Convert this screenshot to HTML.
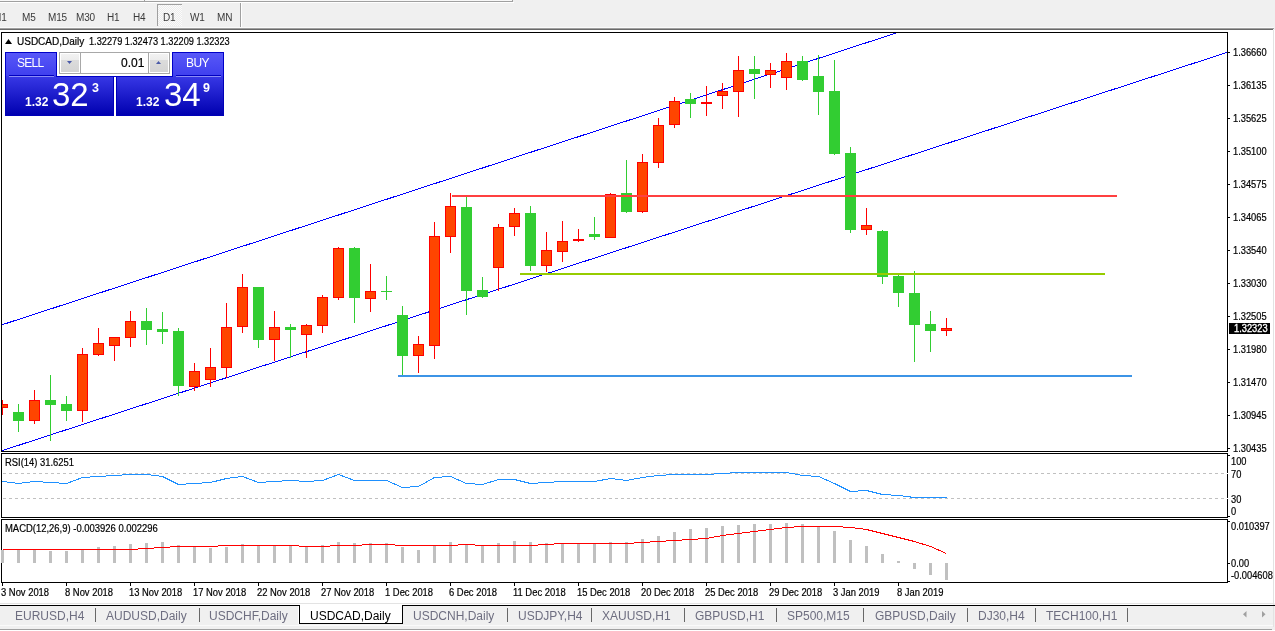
<!DOCTYPE html>
<html><head><meta charset="utf-8">
<style>
*{margin:0;padding:0;box-sizing:border-box}
html,body{width:1275px;height:631px;overflow:hidden;background:#f0f0f0;font-family:"Liberation Sans",sans-serif}
.a{position:absolute}
.tf{position:absolute;top:12px;font-size:10px;color:#3a3a3a;line-height:11px;letter-spacing:-0.2px;will-change:transform}
.win{position:absolute;left:0;top:30px;width:1273px;height:573px;background:#fff}
.tick{position:absolute;width:2px;height:1px;background:#000}
.pl{position:absolute;left:1233px;font-size:10px;line-height:11px;color:#000;letter-spacing:0;-webkit-text-stroke:0.2px #000;transform:scaleX(0.93);transform-origin:0 0}
.dtick{position:absolute;top:583px;width:1px;height:3px;background:#000}
.dl{position:absolute;top:587px;font-size:10px;line-height:11px;color:#000;letter-spacing:0;white-space:nowrap;-webkit-text-stroke:0.2px #000;transform:scaleX(0.94);transform-origin:0 0}
.tab{position:absolute;top:609px;font-size:12px;line-height:14px;color:#6e6e80;white-space:nowrap}
.tab.act{color:#000}
.tsep{position:absolute;top:608px;width:1px;height:14px;background:#686868}
.lbl{position:absolute;font-size:10px;line-height:11px;color:#000;white-space:nowrap;letter-spacing:0;-webkit-text-stroke:0.2px #000;transform-origin:0 0}
.tp{position:absolute;color:#fff;white-space:nowrap}
</style></head><body>
<!-- top strip -->
<div class="a" style="left:0;top:0;width:512px;height:1px;background:#f8f8f8"></div>
<div class="a" style="left:0;top:1px;width:513px;height:1px;background:#a0a0a0"></div>
<div class="a" style="left:512px;top:0;width:1px;height:2px;background:#a0a0a0"></div>
<div class="a" style="left:144px;top:0;width:1px;height:1px;background:#a0a0a0"></div>
<div class="a" style="left:0;top:2px;width:514px;height:1px;background:#fff"></div>
<!-- D1 pressed -->
<div class="a" style="left:157px;top:4px;width:25px;height:22px;background:repeating-conic-gradient(#fbfbfb 0 25%,#ececec 0 50%) 0 0/2px 2px;border-left:1px solid #a0a0a0;border-top:1px solid #a0a0a0"></div>
<div class="tf" style="left:-7px">M1</div>
<div class="tf" style="left:22px">M5</div>
<div class="tf" style="left:48px">M15</div>
<div class="tf" style="left:76px">M30</div>
<div class="tf" style="left:107px">H1</div>
<div class="tf" style="left:133px">H4</div>
<div class="tf" style="left:163px">D1</div>
<div class="tf" style="left:190px">W1</div>
<div class="tf" style="left:217px">MN</div>
<div class="a" style="left:240px;top:3px;width:1px;height:24px;background:#a0a0a0"></div>
<div class="a" style="left:241px;top:3px;width:1px;height:24px;background:#fff"></div>
<div class="a" style="left:0;top:27px;width:1274px;height:1px;background:#fafafa"></div>
<div class="a" style="left:0;top:28px;width:1274px;height:1px;background:#a0a0a0"></div>
<div class="a" style="left:0;top:29px;width:1273px;height:1px;background:#696969"></div>
<!-- chart window -->
<div class="win"></div>
<div class="a" style="left:1274px;top:30px;width:1px;height:573px;background:#fff"></div>
<div class="a" style="left:1273px;top:30px;width:1px;height:597px;background:#e3e3e3"></div>
<div class="a" style="left:1px;top:32px;width:1227px;height:420px;border:1px solid #000"></div>
<div class="a" style="left:1px;top:453px;width:1227px;height:65px;border:1px solid #000"></div>
<div class="a" style="left:1px;top:519px;width:1227px;height:64px;border:1px solid #000"></div>
<svg class="a" style="left:0;top:0" width="1275" height="631" viewBox="0 0 1275 631">
<defs><clipPath id="cm"><rect x="2" y="33" width="1225" height="418"/></clipPath></defs>
<g clip-path="url(#cm)" shape-rendering="crispEdges">
<line x1="0" y1="325.440" x2="1228" y2="-75.293" stroke="#0000ff" stroke-width="1"/>
<line x1="0" y1="451.320" x2="1228" y2="52.134" stroke="#0000ff" stroke-width="1"/>
<rect x="2" y="400" width="1" height="15" fill="#ff0000"/>
<rect x="-3" y="404" width="11" height="4" fill="#ff0000"/>
<rect x="-2" y="405" width="9" height="2" fill="#ff4500"/>
<rect x="18" y="404" width="1" height="28" fill="#32cd32"/>
<rect x="13" y="412" width="11" height="9" fill="#32cd32"/>
<rect x="34" y="390" width="1" height="34" fill="#ff0000"/>
<rect x="29" y="400" width="11" height="21" fill="#ff0000"/>
<rect x="30" y="401" width="9" height="19" fill="#ff4500"/>
<rect x="50" y="375" width="1" height="66" fill="#32cd32"/>
<rect x="45" y="400" width="11" height="5" fill="#32cd32"/>
<rect x="66" y="396" width="1" height="25" fill="#32cd32"/>
<rect x="61" y="404" width="11" height="7" fill="#32cd32"/>
<rect x="82" y="348" width="1" height="74" fill="#ff0000"/>
<rect x="77" y="354" width="11" height="57" fill="#ff0000"/>
<rect x="78" y="355" width="9" height="55" fill="#ff4500"/>
<rect x="98" y="328" width="1" height="28" fill="#ff0000"/>
<rect x="93" y="343" width="11" height="12" fill="#ff0000"/>
<rect x="94" y="344" width="9" height="10" fill="#ff4500"/>
<rect x="114" y="337" width="1" height="24" fill="#ff0000"/>
<rect x="109" y="337" width="11" height="9" fill="#ff0000"/>
<rect x="110" y="338" width="9" height="7" fill="#ff4500"/>
<rect x="130" y="311" width="1" height="36" fill="#ff0000"/>
<rect x="125" y="321" width="11" height="17" fill="#ff0000"/>
<rect x="126" y="322" width="9" height="15" fill="#ff4500"/>
<rect x="146" y="308" width="1" height="37" fill="#32cd32"/>
<rect x="141" y="321" width="11" height="9" fill="#32cd32"/>
<rect x="162" y="312" width="1" height="32" fill="#32cd32"/>
<rect x="157" y="329" width="11" height="3" fill="#32cd32"/>
<rect x="178" y="328" width="1" height="68" fill="#32cd32"/>
<rect x="173" y="331" width="11" height="55" fill="#32cd32"/>
<rect x="194" y="363" width="1" height="28" fill="#ff0000"/>
<rect x="189" y="371" width="11" height="16" fill="#ff0000"/>
<rect x="190" y="372" width="9" height="14" fill="#ff4500"/>
<rect x="210" y="348" width="1" height="39" fill="#ff0000"/>
<rect x="205" y="367" width="11" height="13" fill="#ff0000"/>
<rect x="206" y="368" width="9" height="11" fill="#ff4500"/>
<rect x="226" y="303" width="1" height="75" fill="#ff0000"/>
<rect x="221" y="327" width="11" height="41" fill="#ff0000"/>
<rect x="222" y="328" width="9" height="39" fill="#ff4500"/>
<rect x="242" y="274" width="1" height="59" fill="#ff0000"/>
<rect x="237" y="287" width="11" height="40" fill="#ff0000"/>
<rect x="238" y="288" width="9" height="38" fill="#ff4500"/>
<rect x="258" y="287" width="1" height="61" fill="#32cd32"/>
<rect x="253" y="287" width="11" height="53" fill="#32cd32"/>
<rect x="274" y="311" width="1" height="50" fill="#ff0000"/>
<rect x="269" y="327" width="11" height="13" fill="#ff0000"/>
<rect x="270" y="328" width="9" height="11" fill="#ff4500"/>
<rect x="290" y="324" width="1" height="34" fill="#32cd32"/>
<rect x="285" y="327" width="11" height="3" fill="#32cd32"/>
<rect x="306" y="324" width="1" height="34" fill="#ff0000"/>
<rect x="301" y="325" width="11" height="10" fill="#ff0000"/>
<rect x="302" y="326" width="9" height="8" fill="#ff4500"/>
<rect x="322" y="295" width="1" height="38" fill="#ff0000"/>
<rect x="317" y="297" width="11" height="29" fill="#ff0000"/>
<rect x="318" y="298" width="9" height="27" fill="#ff4500"/>
<rect x="338" y="247" width="1" height="53" fill="#ff0000"/>
<rect x="333" y="248" width="11" height="50" fill="#ff0000"/>
<rect x="334" y="249" width="9" height="48" fill="#ff4500"/>
<rect x="354" y="247" width="1" height="76" fill="#32cd32"/>
<rect x="349" y="248" width="11" height="50" fill="#32cd32"/>
<rect x="370" y="264" width="1" height="48" fill="#ff0000"/>
<rect x="365" y="291" width="11" height="8" fill="#ff0000"/>
<rect x="366" y="292" width="9" height="6" fill="#ff4500"/>
<rect x="386" y="276" width="1" height="24" fill="#32cd32"/>
<rect x="381" y="291" width="11" height="1" fill="#32cd32"/>
<rect x="402" y="306" width="1" height="69" fill="#32cd32"/>
<rect x="397" y="315" width="11" height="41" fill="#32cd32"/>
<rect x="418" y="336" width="1" height="37" fill="#ff0000"/>
<rect x="413" y="344" width="11" height="12" fill="#ff0000"/>
<rect x="414" y="345" width="9" height="10" fill="#ff4500"/>
<rect x="434" y="222" width="1" height="137" fill="#ff0000"/>
<rect x="429" y="236" width="11" height="110" fill="#ff0000"/>
<rect x="430" y="237" width="9" height="108" fill="#ff4500"/>
<rect x="450" y="193" width="1" height="60" fill="#ff0000"/>
<rect x="445" y="206" width="11" height="31" fill="#ff0000"/>
<rect x="446" y="207" width="9" height="29" fill="#ff4500"/>
<rect x="466" y="197" width="1" height="118" fill="#32cd32"/>
<rect x="461" y="207" width="11" height="84" fill="#32cd32"/>
<rect x="482" y="277" width="1" height="21" fill="#32cd32"/>
<rect x="477" y="290" width="11" height="7" fill="#32cd32"/>
<rect x="498" y="224" width="1" height="67" fill="#ff0000"/>
<rect x="493" y="227" width="11" height="41" fill="#ff0000"/>
<rect x="494" y="228" width="9" height="39" fill="#ff4500"/>
<rect x="514" y="208" width="1" height="28" fill="#ff0000"/>
<rect x="509" y="213" width="11" height="14" fill="#ff0000"/>
<rect x="510" y="214" width="9" height="12" fill="#ff4500"/>
<rect x="530" y="206" width="1" height="65" fill="#32cd32"/>
<rect x="525" y="213" width="11" height="53" fill="#32cd32"/>
<rect x="546" y="232" width="1" height="40" fill="#ff0000"/>
<rect x="541" y="250" width="11" height="16" fill="#ff0000"/>
<rect x="542" y="251" width="9" height="14" fill="#ff4500"/>
<rect x="562" y="221" width="1" height="41" fill="#ff0000"/>
<rect x="557" y="241" width="11" height="11" fill="#ff0000"/>
<rect x="558" y="242" width="9" height="9" fill="#ff4500"/>
<rect x="578" y="229" width="1" height="13" fill="#ff0000"/>
<rect x="573" y="239" width="11" height="2" fill="#ff0000"/>
<rect x="594" y="217" width="1" height="23" fill="#32cd32"/>
<rect x="589" y="234" width="11" height="3" fill="#32cd32"/>
<rect x="610" y="193" width="1" height="45" fill="#ff0000"/>
<rect x="605" y="194" width="11" height="44" fill="#ff0000"/>
<rect x="606" y="195" width="9" height="42" fill="#ff4500"/>
<rect x="626" y="160" width="1" height="53" fill="#32cd32"/>
<rect x="621" y="193" width="11" height="19" fill="#32cd32"/>
<rect x="642" y="154" width="1" height="59" fill="#ff0000"/>
<rect x="637" y="162" width="11" height="50" fill="#ff0000"/>
<rect x="638" y="163" width="9" height="48" fill="#ff4500"/>
<rect x="658" y="118" width="1" height="50" fill="#ff0000"/>
<rect x="653" y="125" width="11" height="38" fill="#ff0000"/>
<rect x="654" y="126" width="9" height="36" fill="#ff4500"/>
<rect x="674" y="97" width="1" height="31" fill="#ff0000"/>
<rect x="669" y="101" width="11" height="24" fill="#ff0000"/>
<rect x="670" y="102" width="9" height="22" fill="#ff4500"/>
<rect x="690" y="93" width="1" height="25" fill="#32cd32"/>
<rect x="685" y="99" width="11" height="5" fill="#32cd32"/>
<rect x="706" y="86" width="1" height="30" fill="#ff0000"/>
<rect x="701" y="102" width="11" height="2" fill="#ff0000"/>
<rect x="722" y="83" width="1" height="26" fill="#ff0000"/>
<rect x="717" y="91" width="11" height="5" fill="#ff0000"/>
<rect x="718" y="92" width="9" height="3" fill="#ff4500"/>
<rect x="738" y="56" width="1" height="61" fill="#ff0000"/>
<rect x="733" y="70" width="11" height="22" fill="#ff0000"/>
<rect x="734" y="71" width="9" height="20" fill="#ff4500"/>
<rect x="754" y="56" width="1" height="43" fill="#32cd32"/>
<rect x="749" y="69" width="11" height="5" fill="#32cd32"/>
<rect x="770" y="63" width="1" height="25" fill="#ff0000"/>
<rect x="765" y="70" width="11" height="5" fill="#ff0000"/>
<rect x="766" y="71" width="9" height="3" fill="#ff4500"/>
<rect x="786" y="53" width="1" height="37" fill="#ff0000"/>
<rect x="781" y="61" width="11" height="17" fill="#ff0000"/>
<rect x="782" y="62" width="9" height="15" fill="#ff4500"/>
<rect x="802" y="56" width="1" height="25" fill="#32cd32"/>
<rect x="797" y="61" width="11" height="19" fill="#32cd32"/>
<rect x="818" y="55" width="1" height="60" fill="#32cd32"/>
<rect x="813" y="76" width="11" height="16" fill="#32cd32"/>
<rect x="834" y="60" width="1" height="95" fill="#32cd32"/>
<rect x="829" y="91" width="11" height="63" fill="#32cd32"/>
<rect x="850" y="147" width="1" height="86" fill="#32cd32"/>
<rect x="845" y="153" width="11" height="77" fill="#32cd32"/>
<rect x="866" y="208" width="1" height="27" fill="#ff0000"/>
<rect x="861" y="225" width="11" height="5" fill="#ff0000"/>
<rect x="862" y="226" width="9" height="3" fill="#ff4500"/>
<rect x="882" y="230" width="1" height="54" fill="#32cd32"/>
<rect x="877" y="231" width="11" height="46" fill="#32cd32"/>
<rect x="898" y="274" width="1" height="33" fill="#32cd32"/>
<rect x="893" y="276" width="11" height="17" fill="#32cd32"/>
<rect x="914" y="271" width="1" height="91" fill="#32cd32"/>
<rect x="909" y="293" width="11" height="32" fill="#32cd32"/>
<rect x="930" y="311" width="1" height="41" fill="#32cd32"/>
<rect x="925" y="324" width="11" height="7" fill="#32cd32"/>
<rect x="946" y="318" width="1" height="18" fill="#ff0000"/>
<rect x="941" y="328" width="11" height="3" fill="#ff0000"/>
<rect x="942" y="329" width="9" height="1" fill="#ff4500"/>
</g>
<g shape-rendering="crispEdges">
<rect x="452" y="195" width="665" height="2" fill="#ff4040"/>
<rect x="520" y="273" width="585" height="2" fill="#96cc00"/>
<rect x="398" y="375" width="734" height="2" fill="#3c94e6"/>
</g>
<g shape-rendering="crispEdges">
<line x1="3" y1="473.5" x2="1227" y2="473.5" stroke="#c0c0c0" stroke-dasharray="3 3"/>
<line x1="3" y1="498.5" x2="1227" y2="498.5" stroke="#c0c0c0" stroke-dasharray="3 3"/>
</g>
<polyline points="2.5,481.5 18.5,483.5 34.5,481.5 50.5,482.5 66.5,483.5 82.5,477.5 98.5,476.5 114.5,475.5 130.5,474.5 146.5,474.5 162.5,476.5 178.5,484.5 194.5,483.5 210.5,482.5 226.5,478.5 242.5,476.5 258.5,482.5 274.5,481.5 290.5,480.5 306.5,481.5 322.5,480.5 338.5,474.5 354.5,480.5 370.5,480.5 386.5,480.5 402.5,487.5 418.5,486.5 434.5,477.5 450.5,476.5 466.5,483.5 482.5,484.5 498.5,479.5 514.5,479.5 530.5,483.5 546.5,482.5 562.5,481.5 578.5,481.5 594.5,481.5 610.5,478.5 626.5,480.5 642.5,477.5 658.5,475.5 674.5,474.5 690.5,474.5 706.5,474.5 722.5,473.5 738.5,472.5 754.5,472.5 770.5,472.5 786.5,472.5 802.5,475.5 818.5,476.5 834.5,483.5 850.5,491.5 866.5,490.5 882.5,494.5 898.5,495.5 914.5,497.5 930.5,497.5 946.5,497.5" fill="none" stroke="#1e90ff" stroke-width="1" shape-rendering="crispEdges"/>
<g shape-rendering="crispEdges"><rect x="1" y="550" width="3" height="13" fill="#c0c0c0"/>
<rect x="17" y="550" width="3" height="13" fill="#c0c0c0"/>
<rect x="33" y="550" width="3" height="13" fill="#c0c0c0"/>
<rect x="49" y="551" width="3" height="12" fill="#c0c0c0"/>
<rect x="65" y="551" width="3" height="12" fill="#c0c0c0"/>
<rect x="81" y="550" width="3" height="13" fill="#c0c0c0"/>
<rect x="97" y="547" width="3" height="16" fill="#c0c0c0"/>
<rect x="113" y="546" width="3" height="17" fill="#c0c0c0"/>
<rect x="129" y="544" width="3" height="19" fill="#c0c0c0"/>
<rect x="145" y="543" width="3" height="20" fill="#c0c0c0"/>
<rect x="161" y="542" width="3" height="21" fill="#c0c0c0"/>
<rect x="177" y="545" width="3" height="18" fill="#c0c0c0"/>
<rect x="193" y="546" width="3" height="17" fill="#c0c0c0"/>
<rect x="209" y="548" width="3" height="15" fill="#c0c0c0"/>
<rect x="225" y="547" width="3" height="16" fill="#c0c0c0"/>
<rect x="241" y="544" width="3" height="19" fill="#c0c0c0"/>
<rect x="257" y="546" width="3" height="17" fill="#c0c0c0"/>
<rect x="273" y="546" width="3" height="17" fill="#c0c0c0"/>
<rect x="289" y="546" width="3" height="17" fill="#c0c0c0"/>
<rect x="305" y="547" width="3" height="16" fill="#c0c0c0"/>
<rect x="321" y="545" width="3" height="18" fill="#c0c0c0"/>
<rect x="337" y="542" width="3" height="21" fill="#c0c0c0"/>
<rect x="353" y="543" width="3" height="20" fill="#c0c0c0"/>
<rect x="369" y="543" width="3" height="20" fill="#c0c0c0"/>
<rect x="385" y="543" width="3" height="20" fill="#c0c0c0"/>
<rect x="401" y="547" width="3" height="16" fill="#c0c0c0"/>
<rect x="417" y="550" width="3" height="13" fill="#c0c0c0"/>
<rect x="433" y="546" width="3" height="17" fill="#c0c0c0"/>
<rect x="449" y="542" width="3" height="21" fill="#c0c0c0"/>
<rect x="465" y="545" width="3" height="18" fill="#c0c0c0"/>
<rect x="481" y="546" width="3" height="17" fill="#c0c0c0"/>
<rect x="497" y="543" width="3" height="20" fill="#c0c0c0"/>
<rect x="513" y="541" width="3" height="22" fill="#c0c0c0"/>
<rect x="529" y="542" width="3" height="21" fill="#c0c0c0"/>
<rect x="545" y="543" width="3" height="20" fill="#c0c0c0"/>
<rect x="561" y="544" width="3" height="19" fill="#c0c0c0"/>
<rect x="577" y="544" width="3" height="19" fill="#c0c0c0"/>
<rect x="593" y="544" width="3" height="19" fill="#c0c0c0"/>
<rect x="609" y="542" width="3" height="21" fill="#c0c0c0"/>
<rect x="625" y="542" width="3" height="21" fill="#c0c0c0"/>
<rect x="641" y="539" width="3" height="24" fill="#c0c0c0"/>
<rect x="657" y="536" width="3" height="27" fill="#c0c0c0"/>
<rect x="673" y="532" width="3" height="31" fill="#c0c0c0"/>
<rect x="689" y="529" width="3" height="34" fill="#c0c0c0"/>
<rect x="705" y="528" width="3" height="35" fill="#c0c0c0"/>
<rect x="721" y="526" width="3" height="37" fill="#c0c0c0"/>
<rect x="737" y="525" width="3" height="38" fill="#c0c0c0"/>
<rect x="753" y="524" width="3" height="39" fill="#c0c0c0"/>
<rect x="769" y="524" width="3" height="39" fill="#c0c0c0"/>
<rect x="785" y="523" width="3" height="40" fill="#c0c0c0"/>
<rect x="801" y="524" width="3" height="39" fill="#c0c0c0"/>
<rect x="817" y="527" width="3" height="36" fill="#c0c0c0"/>
<rect x="833" y="531" width="3" height="32" fill="#c0c0c0"/>
<rect x="849" y="540" width="3" height="23" fill="#c0c0c0"/>
<rect x="865" y="546" width="3" height="17" fill="#c0c0c0"/>
<rect x="881" y="554" width="3" height="9" fill="#c0c0c0"/>
<rect x="897" y="561" width="3" height="2" fill="#c0c0c0"/>
<rect x="913" y="563" width="3" height="6" fill="#c0c0c0"/>
<rect x="929" y="563" width="3" height="12" fill="#c0c0c0"/>
<rect x="945" y="563" width="3" height="17" fill="#c0c0c0"/></g>
<polyline points="2.5,549.5 18.5,549.5 34.5,549.5 50.5,549.5 66.5,549.5 82.5,549.5 98.5,549.5 114.5,549.5 130.5,549.5 146.5,548.5 162.5,547.5 178.5,546.5 194.5,546.5 210.5,546.5 226.5,545.5 242.5,545.5 258.5,545.5 274.5,545.5 290.5,545.5 306.5,546.5 322.5,546.5 338.5,545.5 354.5,545.5 370.5,544.5 386.5,544.5 402.5,545.5 418.5,545.5 434.5,545.5 450.5,545.5 466.5,544.5 482.5,545.5 498.5,545.5 514.5,545.5 530.5,545.5 546.5,544.5 562.5,543.5 578.5,543.5 594.5,543.5 610.5,543.5 626.5,543.5 642.5,542.5 658.5,541.5 674.5,540.5 690.5,539.5 706.5,538.5 722.5,535.5 738.5,533.5 754.5,531.5 770.5,529.5 786.5,527.5 802.5,526.5 818.5,526.5 834.5,526.5 850.5,527.5 866.5,529.5 882.5,533.5 898.5,537.5 914.5,541.5 930.5,546.5 946.5,553.5" fill="none" stroke="#ff0000" stroke-width="1" shape-rendering="crispEdges"/>
</svg>
<!-- title -->
<svg class="a" style="left:5px;top:39px" width="7" height="5"><polygon points="3.5,0 7,5 0,5" fill="#000"/></svg>
<div class="lbl" style="left:17px;top:36px;letter-spacing:0">USDCAD,Daily</div><div class="lbl" style="left:89px;top:36px;transform:scaleX(0.92)">1.32279 1.32473 1.32209 1.32323</div>
<!-- trade panel -->
<div class="a" style="left:5px;top:52px;width:52px;height:25px;border:1px solid #0000c8;border-bottom:none;background:linear-gradient(#5858f8,#3e3eee)"></div>
<div class="a" style="left:172px;top:52px;width:52px;height:25px;border:1px solid #0000c8;border-bottom:none;background:linear-gradient(#5858f8,#3e3eee)"></div>
<div class="a" style="left:5px;top:76px;width:109px;height:40px;border:1px solid #0000b8;border-top:none;background:linear-gradient(#3838e6,#0000b0)"></div>
<div class="a" style="left:116px;top:76px;width:108px;height:40px;border:1px solid #0000b8;border-top:none;background:linear-gradient(#3838e6,#0000b0)"></div>
<div class="a" style="left:56px;top:76px;width:117px;height:1px;background:#0000c8"></div>
<div class="a" style="left:9px;top:75px;width:45px;height:1px;background:#0000c0"></div>
<div class="a" style="left:9px;top:76px;width:45px;height:1px;background:#8c8cf6"></div>
<div class="a" style="left:176px;top:75px;width:45px;height:1px;background:#0000c0"></div>
<div class="a" style="left:176px;top:76px;width:45px;height:1px;background:#8c8cf6"></div>
<div class="a" style="left:57px;top:52px;width:115px;height:24px;background:#fff"></div>
<div class="a" style="left:59px;top:52px;width:111px;height:22px;border:1px solid #a8a8a8;background:#fff"></div>
<div class="a" style="left:61px;top:54px;width:18px;height:18px;background:linear-gradient(#f2f2f2 0,#ececec 33%,#dcdcdc 34%,#d4d4d4 100%)"></div>
<div class="a" style="left:80px;top:53px;width:1px;height:20px;background:#a8a8a8"></div>
<div class="a" style="left:150px;top:54px;width:18px;height:18px;background:linear-gradient(#f2f2f2 0,#ececec 33%,#dcdcdc 34%,#d4d4d4 100%)"></div>
<div class="a" style="left:148px;top:53px;width:1px;height:20px;background:#a8a8a8"></div>
<svg class="a" style="left:67px;top:61px" width="5" height="3"><polygon points="0,0 5,0 2.5,3" fill="#4a5aa8"/></svg>
<svg class="a" style="left:156px;top:61px" width="5" height="3"><polygon points="0,3 5,3 2.5,0" fill="#4a5aa8"/></svg>
<div class="lbl" style="left:121px;top:57px;font-size:12px;line-height:13px;letter-spacing:0">0.01</div>
<div class="tp" style="left:17px;top:56px;font-size:12px;line-height:14px;letter-spacing:-0.7px">SELL</div>
<div class="tp" style="left:186px;top:56px;font-size:12px;line-height:14px;letter-spacing:-0.6px">BUY</div>
<div class="tp" style="left:25px;top:96px;font-size:12px;line-height:13px;font-weight:bold">1.32</div>
<div class="tp" style="left:52px;top:78px;font-size:33px;line-height:33px">32</div>
<div class="tp" style="left:92px;top:83px;font-size:12.5px;line-height:11px;font-weight:bold">3</div>
<div class="tp" style="left:136px;top:96px;font-size:12px;line-height:13px;font-weight:bold">1.32</div>
<div class="tp" style="left:164px;top:78px;font-size:33px;line-height:33px">34</div>
<div class="tp" style="left:203px;top:83px;font-size:12.5px;line-height:11px;font-weight:bold">9</div>
<!-- price axis -->
<div class="tick" style="left:1228px;top:52px"></div><div class="pl" style="top:47px">1.36660</div>
<div class="tick" style="left:1228px;top:85px"></div><div class="pl" style="top:80px">1.36135</div>
<div class="tick" style="left:1228px;top:118px"></div><div class="pl" style="top:113px">1.35625</div>
<div class="tick" style="left:1228px;top:151px"></div><div class="pl" style="top:146px">1.35100</div>
<div class="tick" style="left:1228px;top:184px"></div><div class="pl" style="top:179px">1.34575</div>
<div class="tick" style="left:1228px;top:217px"></div><div class="pl" style="top:212px">1.34065</div>
<div class="tick" style="left:1228px;top:250px"></div><div class="pl" style="top:245px">1.33540</div>
<div class="tick" style="left:1228px;top:283px"></div><div class="pl" style="top:278px">1.33030</div>
<div class="tick" style="left:1228px;top:316px"></div><div class="pl" style="top:311px">1.32505</div>
<div class="tick" style="left:1228px;top:349px"></div><div class="pl" style="top:344px">1.31980</div>
<div class="tick" style="left:1228px;top:382px"></div><div class="pl" style="top:377px">1.31470</div>
<div class="tick" style="left:1228px;top:415px"></div><div class="pl" style="top:410px">1.30945</div>
<div class="tick" style="left:1228px;top:448px"></div><div class="pl" style="top:443px">1.30435</div>
<div class="a" style="left:1229px;top:323px;width:41px;height:11px;background:#000"></div>
<div class="pl" style="left:1234px;top:323px;color:#fff;-webkit-text-stroke:0.3px #fff">1.32323</div>
<!-- RSI labels -->
<div class="lbl" style="left:5px;top:457px;transform:scaleX(0.94)">RSI(14) 31.6251</div>
<div class="tick" style="left:1228px;top:455px"></div>
<div class="tick" style="left:1228px;top:516px"></div><div class="a" style="left:1227px;top:473px;width:1px;height:1px;background:#fff"></div><div class="a" style="left:1227px;top:498px;width:1px;height:1px;background:#fff"></div>
<div class="pl" style="left:1231px;top:456px">100</div>
<div class="pl" style="left:1231px;top:469px">70</div>
<div class="pl" style="left:1231px;top:494px">30</div>
<div class="pl" style="left:1231px;top:506px">0</div>
<!-- MACD labels -->
<div class="lbl" style="left:5px;top:523px;transform:scaleX(0.945)">MACD(12,26,9) -0.003926 0.002296</div>
<div class="tick" style="left:1228px;top:521px"></div>
<div class="tick" style="left:1228px;top:563px"></div>
<div class="tick" style="left:1228px;top:581px"></div>
<div class="pl" style="left:1231px;top:521px">0.010397</div>
<div class="pl" style="left:1231px;top:558px">0.00</div>
<div class="pl" style="left:1231px;top:570px">-0.004608</div>
<!-- date axis -->
<div class="dtick" style="left:2px"></div><div class="dl" style="left:1px">3 Nov 2018</div>
<div class="dtick" style="left:66px"></div><div class="dl" style="left:65px">8 Nov 2018</div>
<div class="dtick" style="left:130px"></div><div class="dl" style="left:129px">13 Nov 2018</div>
<div class="dtick" style="left:194px"></div><div class="dl" style="left:193px">17 Nov 2018</div>
<div class="dtick" style="left:258px"></div><div class="dl" style="left:257px">22 Nov 2018</div>
<div class="dtick" style="left:322px"></div><div class="dl" style="left:321px">27 Nov 2018</div>
<div class="dtick" style="left:386px"></div><div class="dl" style="left:385px">1 Dec 2018</div>
<div class="dtick" style="left:450px"></div><div class="dl" style="left:449px">6 Dec 2018</div>
<div class="dtick" style="left:514px"></div><div class="dl" style="left:513px">11 Dec 2018</div>
<div class="dtick" style="left:578px"></div><div class="dl" style="left:577px">15 Dec 2018</div>
<div class="dtick" style="left:642px"></div><div class="dl" style="left:641px">20 Dec 2018</div>
<div class="dtick" style="left:706px"></div><div class="dl" style="left:705px">25 Dec 2018</div>
<div class="dtick" style="left:770px"></div><div class="dl" style="left:769px">29 Dec 2018</div>
<div class="dtick" style="left:834px"></div><div class="dl" style="left:833px">3 Jan 2019</div>
<div class="dtick" style="left:898px"></div><div class="dl" style="left:897px">8 Jan 2019</div>
<!-- tab bar -->
<div class="a" style="left:0;top:603px;width:1274px;height:1px;background:#e3e3e3"></div>
<div class="a" style="left:0;top:604px;width:1273px;height:1px;background:#fff"></div>
<div class="a" style="left:0;top:605px;width:1275px;height:1px;background:#000"></div>
<div class="a" style="left:0;top:629px;width:1272px;height:1px;background:#a0a0a0"></div>
<div class="a" style="left:0;top:630px;width:1275px;height:1px;background:#fff"></div>
<div class="a" style="left:0;top:625px;width:1273px;height:1px;background:#fafafa"></div>
<div class="a" style="left:299px;top:605px;width:104px;height:19px;background:#fff;border:1px solid #000;border-top:none"></div>
<div class="a" style="left:298px;top:606px;width:1px;height:18px;background:#fff"></div>
<div class="tab" style="left:15px">EURUSD,H4</div>
<div class="tsep" style="left:95px"></div>
<div class="tab" style="left:106px">AUDUSD,Daily</div>
<div class="tsep" style="left:199px"></div>
<div class="tab" style="left:209px">USDCHF,Daily</div>
<div class="tab act" style="left:310px">USDCAD,Daily</div>
<div class="tab" style="left:413px">USDCNH,Daily</div>
<div class="tsep" style="left:507px"></div>
<div class="tab" style="left:518px">USDJPY,H4</div>
<div class="tsep" style="left:591px"></div>
<div class="tab" style="left:602px">XAUUSD,H1</div>
<div class="tsep" style="left:684px"></div>
<div class="tab" style="left:695px">GBPUSD,H1</div>
<div class="tsep" style="left:776px"></div>
<div class="tab" style="left:787px">SP500,M15</div>
<div class="tsep" style="left:863px"></div>
<div class="tab" style="left:875px">GBPUSD,Daily</div>
<div class="tsep" style="left:967px"></div>
<div class="tab" style="left:978px">DJ30,H4</div>
<div class="tsep" style="left:1035px"></div>
<div class="tab" style="left:1046px">TECH100,H1</div>
<div class="tsep" style="left:1127px"></div>
<svg class="a" style="left:1243px;top:611px" width="4" height="7"><polygon points="3.5,0 3.5,6.5 0,3.25" fill="#a0a0a0"/></svg>
<svg class="a" style="left:1262px;top:611px" width="4" height="7"><polygon points="0,0 0,6.5 3.5,3.25" fill="#a0a0a0"/></svg>
</body></html>
